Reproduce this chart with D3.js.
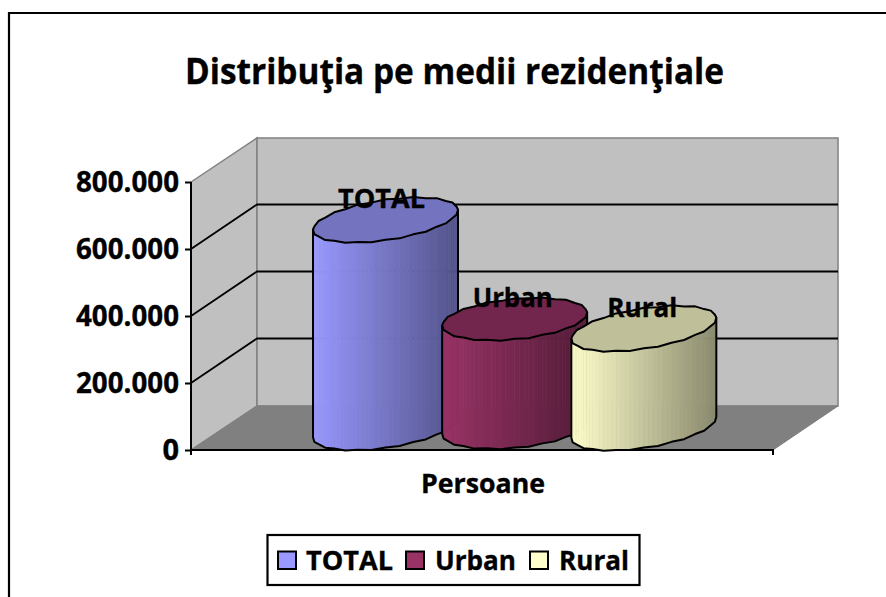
<!DOCTYPE html>
<html><head><meta charset="utf-8">
<script src="https://cdn.jsdelivr.net/npm/d3@7"></script>
<style>html,body{margin:0;padding:0;background:#fff}svg{display:block}
text{font-family:"Open Sans",sans-serif;font-weight:700;fill:#000;stroke:#000;stroke-width:.35px}</style></head>
<body><svg id="c" width="886" height="597"></svg>
<script>
const titleText = "Distribuţia pe medii rezidenţiale";
const xAxisTitle = "Persoane";
const categories = ["Persoane"];
const seriesNames = ["TOTAL", "Urban", "Rural"];
const seriesValues = [620000, 324000, 296000];
const tickValues = [0, 200000, 400000, 600000, 800000];
const tickLabels = ["0", "200.000", "400.000", "600.000", "800.000"];
const baseColors = ["#9999FF", "#993366", "#FFFFCC"];

const svg = d3.select("#c");
const front = {x0:191, x1:773, y0:450, y1:182};
const depth = {dx:66, dy:-44};
const y = d3.scaleLinear().domain([0,800000]).range([front.y0,front.y1]);
const x = d3.scaleBand().domain(seriesNames).range([313,716.5]).paddingInner(-0.124);

// frame
svg.append("path").attr("d","M9,597V13H886").attr("fill","none").attr("stroke","#000").attr("stroke-width",2.2);

// title
svg.append("text").attr("x",454.5).attr("y",84).attr("text-anchor","middle")
  .attr("font-size",35).attr("textLength",539).attr("lengthAdjust","spacingAndGlyphs").text(titleText);

// walls & floor
const line = d3.line();
const bx0 = front.x0+depth.dx, bx1 = front.x1+depth.dx-1;
const by = v => y(v)+depth.dy;
svg.append("path").attr("d",line([[front.x0,y(800000)],[bx0,by(800000)],[bx0,by(0)],[front.x0,y(0)]])+"Z")
  .attr("fill","#C0C0C0").attr("stroke","#808080").attr("stroke-width",1.5);
svg.append("path").attr("d",line([[bx0,by(800000)],[bx1,by(800000)],[bx1,by(0)],[bx0,by(0)]])+"Z")
  .attr("fill","#C0C0C0").attr("stroke","#808080").attr("stroke-width",1.5);
svg.append("path").attr("d",line([[front.x0,y(0)],[bx0,by(0)],[bx1,by(0)],[front.x1,y(0)]])+"Z")
  .attr("fill","#808080").attr("stroke","#808080").attr("stroke-width",1);

// gridlines
tickValues.filter(v=>v>0&&v<800000).forEach(v=>{
  svg.append("path").attr("d",line([[front.x0,y(v)],[bx0,by(v)-0.5],[bx1,by(v)-0.5]]))
    .attr("fill","none").attr("stroke","#000").attr("stroke-width",1.8);
});

// axes
const axL = svg.append("g").attr("transform",`translate(${front.x0},0)`)
  .call(d3.axisLeft(y).tickValues(tickValues).tickFormat((d,i)=>tickLabels[i]).tickSize(6).tickPadding(6));
axL.selectAll("line").attr("stroke","#000").attr("stroke-width",2);
axL.selectAll("text").attr("font-size",29).attr("font-family",'"Open Sans",sans-serif').attr("font-weight",700)
  .attr("dy","0.32em")
  .attr("textLength",d=>d===0?null:103).attr("lengthAdjust","spacingAndGlyphs");
axL.select(".domain").remove();
svg.append("path").attr("d",line([[front.x0,front.y1],[front.x0,front.y0]])).attr("stroke","#000").attr("stroke-width",2);

const xCat = d3.scaleBand().domain(categories).range([front.x0,front.x1]);
const axB = svg.append("g").attr("transform",`translate(0,${front.y0})`)
  .call(d3.axisBottom(xCat).tickSize(0).tickFormat(""));
axB.select(".domain").attr("stroke","#000").attr("stroke-width",2).attr("d",`M${front.x0},5V0H${front.x1}V5`);
svg.append("text").attr("x",483).attr("y",493).attr("text-anchor","middle").attr("font-size",26)
  .attr("textLength",124).attr("lengthAdjust","spacingAndGlyphs").text(xAxisTitle);

// cylinders
const SEG = 16, rx = 72.5, ry = 20.2;
const skews = [10, 6.5, 10.5];
const labelDx = [-4, -2, -1.5], labelW = [87, 80, 70];
const pt = (cx,cy,t,sk)=>[cx+rx*Math.cos(t), cy-sk*Math.cos(t)-ry*Math.sin(t)];
const shade = (c,k)=>{const r=d3.rgb(c);return d3.rgb(r.r*k,r.g*k,r.b*k).formatHex();};
const labelPos = [];
seriesNames.forEach((name,i)=>{
  const v = seriesValues[i], sk = skews[i];
  const cx = x(name)+rx, yBase = front.y0-22.5, yTop = yBase-(front.y0-y(v));
  const g = svg.append("g");
  const ts = d3.range(SEG+1).map(k=>Math.PI+Math.PI*k/SEG);
  const j = k=>k%2? 0.7:-0.3;
  d3.pairs(ts).forEach(([a,b])=>{
    const subs = d3.range(3).map(n=>a+(b-a)*n/3).concat([b]);
    d3.pairs(subs).forEach(([m,n])=>{
      const p=pt(cx,yTop,m,sk),q=pt(cx,yTop,n,sk),r=pt(cx,yBase,n,sk),s=pt(cx,yBase,m,sk);
      const tt=((p[0]+q[0])/2-(cx-rx))/(2*rx);
      const col=shade(baseColors[i],1-0.46*tt);
      g.append("path").attr("d",line([p,q,r,s])+"Z").attr("fill",col).attr("stroke",col).attr("stroke-width",0.6);
    });
  });
  const tp = d3.range(SEG*2).map(k=>{const p=pt(cx,yTop,2*Math.PI*k/(SEG*2),sk);return [p[0],p[1]+j(k)];});
  g.append("path").attr("d",line(tp)+"Z").attr("fill",shade(baseColors[i],0.75)).attr("stroke","#000").attr("stroke-width",2).attr("stroke-linejoin","round");
  const bot = ts.map((t,k)=>{const p=pt(cx,yBase,t,sk);return [p[0],p[1]+j(k)];});
  const left=pt(cx,yTop,Math.PI,sk), right=pt(cx,yTop,2*Math.PI,sk);
  g.append("path").attr("d",line([left,...bot,right])).attr("fill","none").attr("stroke","#000").attr("stroke-width",2).attr("stroke-linejoin","round");
  labelPos.push([cx+labelDx[i], yTop-11.5]);
});
// data labels on top
seriesNames.forEach((name,i)=>{
  svg.append("text").attr("x",labelPos[i][0]).attr("y",labelPos[i][1]).attr("text-anchor","middle").attr("font-size",27)
    .attr("textLength",labelW[i]).attr("lengthAdjust","spacingAndGlyphs").text(name);
});

// legend
const leg = svg.append("g");
leg.append("rect").attr("x",267.5).attr("y",535).attr("width",372).attr("height",50).attr("fill","#fff").attr("stroke","#000").attr("stroke-width",2.2);
const lx=[278,406,530], lt=[306,435,559], lw=[87,81,70];
seriesNames.forEach((name,i)=>{
  leg.append("rect").attr("x",lx[i]).attr("y",551.5).attr("width",18).attr("height",17.5).attr("fill",baseColors[i]).attr("stroke","#000").attr("stroke-width",2);
  leg.append("text").attr("x",lt[i]).attr("y",570).attr("font-size",27).attr("textLength",lw[i]).attr("lengthAdjust","spacingAndGlyphs").text(name);
});
</script></body></html>
